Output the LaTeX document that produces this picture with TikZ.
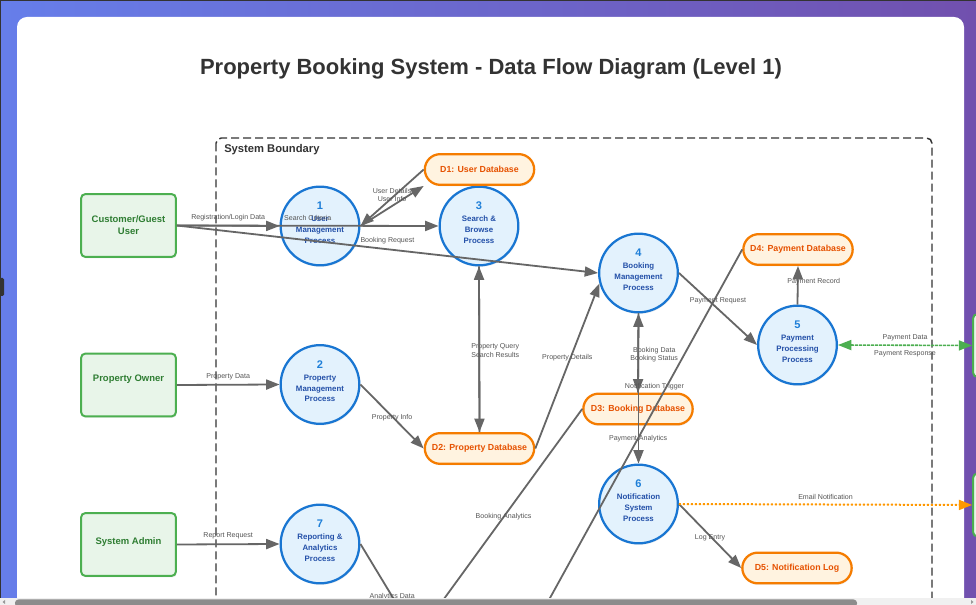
\documentclass[tikz,border=0pt]{standalone}
\usepackage{fontspec}
\setmainfont{Liberation Sans}
\usetikzlibrary{arrows.meta,shadows}

\definecolor{bgleft}{HTML}{667EEA}
\definecolor{bgright}{HTML}{7150AE}
\definecolor{entfill}{HTML}{E8F5E9}
\definecolor{entline}{HTML}{4CAF50}
\definecolor{enttext}{HTML}{2E7D32}
\definecolor{procfill}{HTML}{E3F2FD}
\definecolor{procline}{HTML}{1976D2}
\definecolor{proctext}{HTML}{2350A8}
\definecolor{procnumcol}{HTML}{1E7FD8}
\definecolor{storefill}{HTML}{FFF3E0}
\definecolor{storeline}{HTML}{F57C00}
\definecolor{storetext}{HTML}{E65100}
\definecolor{flowgray}{HTML}{666666}
\definecolor{lblgray}{HTML}{555555}
\definecolor{inkdark}{HTML}{333333}
\definecolor{mailorange}{HTML}{FF9800}

\begin{document}
\begin{tikzpicture}[x=0.75pt,y=-0.75pt,
  entity/.style={draw=entline,fill=entfill,line width=1.5pt,rounded corners=3pt,
    minimum width=71pt,minimum height=47pt,inner sep=1pt,text=enttext,align=center,
    font=\fontsize{7.1}{9}\selectfont\bfseries,
    drop shadow={opacity=0.12,shadow xshift=0.6pt,shadow yshift=-1.2pt}},
  proc/.style={circle,draw=procline,fill=procfill,line width=1.7pt,minimum size=59pt,
    inner sep=0pt,text=proctext,align=center,text depth=5pt,
    font=\fontsize{5.9}{7.9}\selectfont\bfseries,
    drop shadow={opacity=0.12,shadow xshift=0.6pt,shadow yshift=-1.2pt}},
  store/.style={draw=storeline,fill=storefill,line width=1.7pt,rounded corners=11.5pt,
    minimum width=82pt,minimum height=23pt,inner sep=1pt,text=storetext,
    font=\fontsize{6.6}{8}\selectfont\bfseries,
    drop shadow={opacity=0.12,shadow xshift=0.6pt,shadow yshift=-1.2pt}},
  flow/.style={draw=flowgray,line width=1.35pt,-{Triangle[length=10pt,width=7.5pt]}},
  payflow/.style={draw=entline,fill=entline,line width=1.2pt,dash pattern=on 2.2pt off 0.8pt,
    {Triangle[length=10pt,width=7.5pt]}-{Triangle[length=10pt,width=7.5pt]}},
  mailflow/.style={draw=mailorange,fill=mailorange,line width=1.5pt,dash pattern=on 1.5pt off 1.5pt,
    -{Triangle[length=10pt,width=7.5pt]}},
  flowlbl/.style={text=lblgray,font=\fontsize{5.3}{6}\selectfont,inner sep=0pt}]

\newcommand{\procnum}[1]{{\fontsize{8.3}{9}\selectfont\color{procnumcol}#1}\\[1.1pt]}

\useasboundingbox (0,0) rectangle (976,605);
\clip (0,0) rectangle (976,605);

% page behind the card
\shade[left color=bgleft,right color=bgright] (0,0) rectangle (976,605);
\fill[inkdark] (0,0) rectangle (976,1.3);
\fill[inkdark] (0,0) rectangle (1,605);
\fill[inkdark,rounded corners=1pt] (-3,278) rectangle (4,296);
\fill[white,rounded corners=7.5pt] (17,17) rectangle (964,640);

\node[font=\fontsize{16.5}{20}\selectfont\bfseries,text=inkdark] (title) at (491,69)
  {Property Booking System - Data Flow Diagram (Level 1)};

\draw[inkdark,line width=1.1pt,dash pattern=on 6pt off 3pt,rounded corners=4pt]
  (216,138) rectangle (932,640);
\node[anchor=west,font=\fontsize{8.4}{10}\selectfont\bfseries,text=inkdark,inner sep=0pt]
  (sysbound) at (224,150) {System Boundary};

% external entities
\node[entity] (cust) at (128.5,225.5) {Customer/Guest\\User};
\node[entity,text depth=10pt] (owner) at (128.5,385) {Property Owner};
\node[entity,text depth=5pt] (admin) at (128.5,544.5) {System Admin};
\node[entity] (gateway) at (1020.5,345.5) {};
\node[entity] (mailsrv) at (1020.5,505) {};

% processes
\foreach \n/\px/\py/\pname in {1/320/226/{User\\Management\\Process},
    2/320/384.5/{Property\\Management\\Process},
    3/479/226/{Search \&\\Browse\\Process},
    4/638.5/273/{Booking\\Management\\Process},
    5/797.5/345/{Payment\\Processing\\Process},
    6/638.5/504/{Notification\\System\\Process},
    7/320/544/{Reporting \&\\Analytics\\Process}}
  \node[proc] (p\n) at (\px,\py) {\procnum{\n}\pname};

% data stores
\foreach \s/\sx/\sy/\sname in {1/479.5/169.5/User Database,
    2/479.5/448.5/Property Database,
    3/638/409/Booking Database,
    4/798/249.5/Payment Database,
    5/797/568/Notification Log}
  \node[store] (d\s) at (\sx,\sy) {D\s: \sname};

\coordinate (paEnd) at (534,627);
\coordinate (baEnd) at (425,625);
\coordinate (adEnd) at (424,649);

\draw[flow] (cust.east) -- (p1.west) node[flowlbl,midway,above=3pt] {Registration/Login Data};
\draw[flow] (cust.east) -- (p3.west) node[flowlbl,midway,above=3pt] {Search Criteria};
\draw[flow] (cust.east) -- (p4.west) node[flowlbl,midway,above=3pt] {Booking Request};
\draw[flow] (owner.east) -- (p2.west) node[flowlbl,midway,above=3pt] {Property Data};
\draw[flow] (admin.east) -- (p7.west) node[flowlbl,midway,above=3pt] {Report Request};

\draw[flow] (d1.west) -- (p1.east) node[flowlbl,midway,above=2.5pt] {User Details};
\draw[flow] (p1.east) -- (d1.south west) node[flowlbl,midway,above=2.5pt] {User Info};
\draw[flow] (p2.east) -- (d2.west) node[flowlbl,midway,yshift=-1pt] {Property Info};
\draw[flow] (p3.south) -- (d2.north) node[flowlbl,midway,xshift=12pt,yshift=1.5pt] {Property Query};
\draw[flow] (d2.north) -- (p3.south) node[flowlbl,midway,xshift=12pt,yshift=-4pt] {Search Results};
\draw[flow] (d2.east) -- (p4.195) node[flowlbl,midway,above=3pt] {Property Details};

\draw[flow] (p4.south) -- (d3.north) node[flowlbl,midway,xshift=12pt,yshift=2pt] {Booking Data};
\draw[flow] (d3.north) -- (p4.south) node[flowlbl,midway,xshift=12pt,yshift=-4pt] {Booking Status};
\draw[flow] (p4.south) -- (p6.north) node[flowlbl,midway,xshift=12pt,yshift=1.5pt] {Notification Trigger};
\draw[flow] (p4.east) -- (p5.west) node[flowlbl,midway,above=3pt] {Payment Request};
\draw[flow] (p5.north) -- (d4.south) node[flowlbl,midway,xshift=12pt,yshift=2.6pt] {Payment Record};
\draw[payflow] (p5.east) -- (gateway.west)
  node[flowlbl,midway,yshift=5.25pt] {Payment Data}
  node[flowlbl,midway,yshift=-6.75pt] {Payment Response};

\draw[flow] (p6.east) -- (d5.west) node[flowlbl,midway,yshift=-1.5pt] {Log Entry};
\draw[mailflow] (p6.east) -- (mailsrv.west) node[flowlbl,midway,above=3pt] {Email Notification};

\draw[flow] (d4.west) -- (paEnd) node[flowlbl,midway] {Payment Analytics};
\draw[flow] (d3.west) -- (baEnd) node[flowlbl,midway] {Booking Analytics};
\draw[flow] (p7.east) -- (adEnd) node[flowlbl,midway] {Analytics Data};

% scroll bar
\fill[black!6] (0,598) rectangle (976,605);
\fill[black!45,rounded corners=2.5pt] (15,599.5) rectangle (857,607);
\fill[black!40] (2.5,602) -- (5,600) -- (5,604) -- cycle;
\fill[black!40] (973.5,602) -- (971,600) -- (971,604) -- cycle;
\end{tikzpicture}
\end{document}
